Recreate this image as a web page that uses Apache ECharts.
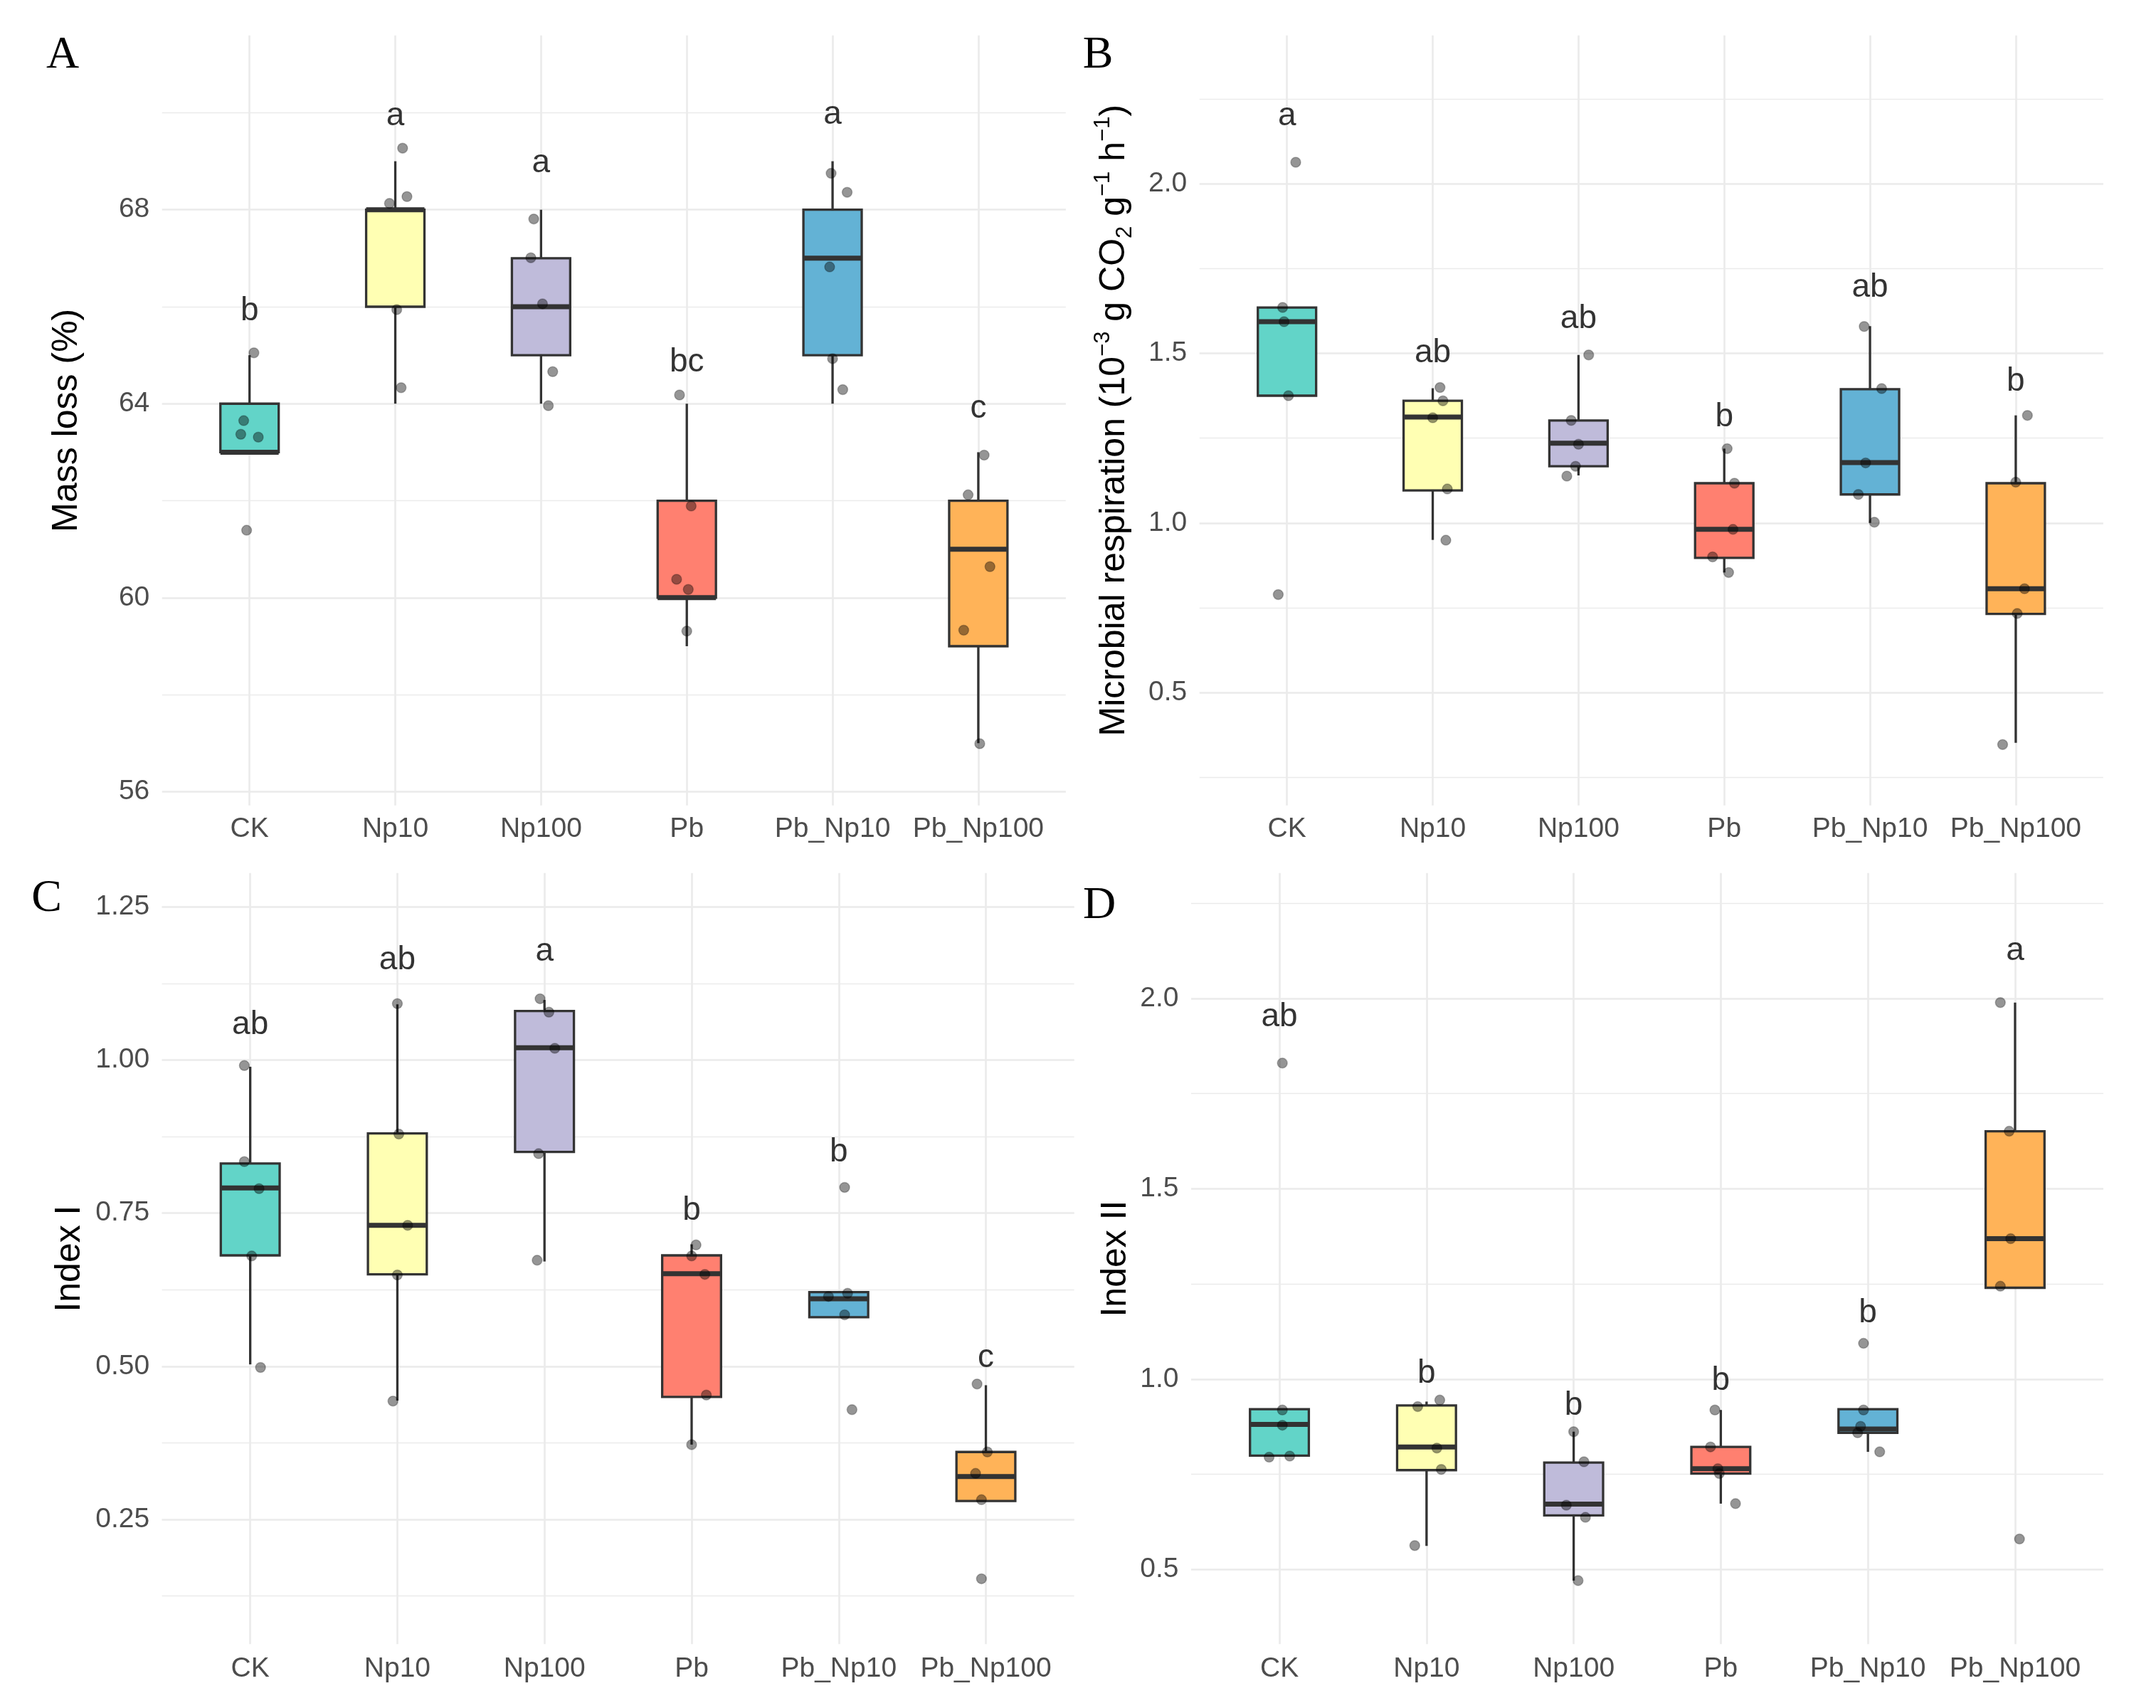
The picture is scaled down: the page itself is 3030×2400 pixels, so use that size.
<!DOCTYPE html>
<html>
<head>
<meta charset="utf-8">
<script src="https://cdn.jsdelivr.net/npm/echarts@6/dist/echarts.min.js"></script>
<style>
html, body { margin: 0; background: #fff; }
#chart { width: 3030px; height: 2400px; }
</style>
</head>
<body>
<div id="chart"></div>
<script>
var groups = ['CK', 'Np10', 'Np100', 'Pb', 'Pb_Np10', 'Pb_Np100'];
var fills = ['#62D4C8', '#FFFFB3', '#BFBBDA', '#FF8070', '#63B2D5', '#FFB358'];

// A - mass loss; box = [whisker lo, Q1, median, Q3, whisker hi]
var massBox = [[63, 63, 63, 64, 65], [64, 66, 68, 68, 69], [64, 65, 66, 67, 68],
               [59, 60, 60, 62, 64], [64, 65, 67, 68, 69], [57, 59, 61, 62, 63]];
// jittered points: [x offset, value]
var massPts = [
  [[0.03, 65.05], [-0.04, 63.65], [-0.06, 63.37], [0.06, 63.31], [-0.02, 61.39]],
  [[0.05, 69.27], [-0.04, 68.13], [0.08, 68.27], [0.01, 65.94], [0.04, 64.33]],
  [[-0.05, 67.81], [-0.07, 67.01], [0.01, 66.06], [0.08, 64.66], [0.05, 63.96]],
  [[-0.05, 64.18], [0.03, 61.89], [-0.07, 60.38], [0.01, 60.17], [0, 59.31]],
  [[-0.01, 68.75], [0.10, 68.36], [-0.02, 66.82], [0, 64.93], [0.07, 64.29]],
  [[0.04, 62.94], [-0.07, 62.12], [0.08, 60.64], [-0.10, 59.33], [0.01, 56.99]]
];
var massLetters = ['b', 'a', 'a', 'bc', 'a', 'c'];
var massLetterY = [65.67, 69.69, 68.72, 64.62, 69.72, 63.66];
var massTicks = [56, 60, 64, 68];
var massGrid = [56, 58, 60, 62, 64, 66, 68, 70];

// B - microbial respiration
var respBox = [[1.375, 1.375, 1.593, 1.635, 1.635], [0.95, 1.096, 1.312, 1.36, 1.397],
               [1.14, 1.167, 1.235, 1.302, 1.495], [0.854, 0.897, 0.981, 1.117, 1.219],
               [1.0, 1.084, 1.178, 1.394, 1.58], [0.352, 0.732, 0.806, 1.117, 1.317]];
var respPts = [
  [[0.06, 2.063], [-0.03, 1.635], [-0.02, 1.593], [0.01, 1.375], [-0.06, 0.789]],
  [[0.05, 1.399], [0.07, 1.36], [0, 1.31], [0.10, 1.10], [0.09, 0.949]],
  [[0.07, 1.495], [-0.05, 1.302], [0, 1.232], [-0.02, 1.167], [-0.08, 1.138]],
  [[0.02, 1.219], [0.07, 1.117], [0.06, 0.981], [-0.08, 0.90], [0.03, 0.854]],
  [[-0.04, 1.579], [0.08, 1.396], [-0.03, 1.177], [-0.08, 1.084], [0.03, 1.002]],
  [[0.08, 1.317], [0, 1.12], [0.06, 0.806], [0.01, 0.733], [-0.09, 0.347]]
];
var respLetters = ['a', 'ab', 'ab', 'b', 'ab', 'b'];
var respLetterY = [2.165, 1.466, 1.567, 1.278, 1.659, 1.382];
var respTicks = [0.5, 1.0, 1.5, 2.0];
var respGrid = [0.25, 0.5, 0.75, 1.0, 1.25, 1.5, 1.75, 2.0, 2.25];

// C - index I
var idx1Box = [[0.503, 0.681, 0.791, 0.831, 0.989], [0.444, 0.65, 0.73, 0.88, 1.091],
               [0.671, 0.85, 1.02, 1.08, 1.098], [0.372, 0.45, 0.651, 0.681, 0.699],
               [0.58, 0.58, 0.61, 0.621, 0.621], [0.28, 0.28, 0.32, 0.36, 0.469]];
var idx1Pts = [
  [[-0.04, 0.991], [-0.04, 0.834], [0.06, 0.79], [0.01, 0.68], [0.07, 0.498]],
  [[0, 1.092], [0.01, 0.879], [0.07, 0.73], [0, 0.649], [-0.03, 0.443]],
  [[-0.03, 1.10], [0.03, 1.078], [0.07, 1.019], [-0.04, 0.847], [-0.05, 0.673]],
  [[0.03, 0.698], [0, 0.68], [0.09, 0.65], [0.10, 0.453], [0, 0.372]],
  [[0.04, 0.792], [0.06, 0.619], [-0.07, 0.614], [0.04, 0.584], [0.09, 0.429]],
  [[-0.06, 0.471], [0.01, 0.36], [-0.07, 0.325], [-0.03, 0.282], [-0.03, 0.153]]
];
var idx1Letters = ['ab', 'ab', 'a', 'b', 'b', 'c'];
var idx1LetterY = [1.039, 1.144, 1.158, 0.735, 0.83, 0.495];
var idx1Ticks = [0.25, 0.5, 0.75, 1.0, 1.25];
var idx1Grid = [0.125, 0.25, 0.375, 0.5, 0.625, 0.75, 0.875, 1.0, 1.125, 1.25];

// D - index II
var idx2Box = [[0.799, 0.799, 0.881, 0.921, 0.921], [0.562, 0.761, 0.822, 0.931, 0.941],
               [0.471, 0.642, 0.672, 0.781, 0.862], [0.673, 0.752, 0.765, 0.822, 0.919],
               [0.809, 0.859, 0.869, 0.921, 0.921], [1.24, 1.24, 1.369, 1.651, 1.989]];
var idx2Pts = [
  [[0.02, 1.83], [0.02, 0.919], [0.02, 0.879], [-0.07, 0.795], [0.07, 0.798]],
  [[0.09, 0.945], [-0.06, 0.928], [0.07, 0.819], [0.10, 0.763], [-0.08, 0.563]],
  [[0, 0.862], [0.07, 0.783], [-0.05, 0.669], [0.08, 0.637], [0.03, 0.471]],
  [[-0.04, 0.919], [-0.07, 0.822], [-0.02, 0.765], [-0.01, 0.752], [0.10, 0.673]],
  [[-0.03, 1.094], [-0.03, 0.919], [-0.05, 0.876], [-0.07, 0.859], [0.08, 0.809]],
  [[-0.10, 1.989], [-0.04, 1.651], [-0.03, 1.369], [-0.10, 1.244], [0.03, 0.58]]
];
var idx2Letters = ['ab', 'b', 'b', 'b', 'b', 'a'];
var idx2LetterY = [1.92, 0.985, 0.901, 0.965, 1.144, 2.095];
var idx2Ticks = [0.5, 1.0, 1.5, 2.0];
var idx2Grid = [0.5, 0.75, 1.0, 1.25, 1.5, 1.75, 2.0, 2.25];

var panels = [
  { title: 'Mass loss (%)', box: massBox, pts: massPts, letters: massLetters, letterY: massLetterY, ticks: massTicks, grid: massGrid, digits: 0 },
  { title: 'Microbial respiration (10{sup|\u22123} g CO{sub|2} g{sup|\u22121} h{sup|\u22121})', box: respBox, pts: respPts, letters: respLetters, letterY: respLetterY, ticks: respTicks, grid: respGrid, digits: 1 },
  { title: 'Index I', box: idx1Box, pts: idx1Pts, letters: idx1Letters, letterY: idx1LetterY, ticks: idx1Ticks, grid: idx1Grid, digits: 2 },
  { title: 'Index II', box: idx2Box, pts: idx2Pts, letters: idx2Letters, letterY: idx2LetterY, ticks: idx2Ticks, grid: idx2Grid, digits: 1 }
];

// panel frames in page pixels; ref = [value, y, value, y] of two gridlines
var frames = [
  { left: 227.8, right: 1497.8, top: 49.7, bottom: 1131.7, ref: [68, 294.7, 56, 1112.4], titleGap: 256, labelGap: 33.3, tag: 'A', tagX: 88, tagY: 78.5 },
  { left: 1685.8, right: 2955.8, top: 49.7, bottom: 1131.7, ref: [2.0, 258.0, 0.5, 973.2], titleGap: 242.5, labelGap: 33.3, tag: 'B', tagX: 1543, tagY: 77.7 },
  { left: 227.6, right: 1509.6, top: 1226.8, bottom: 2310.3, ref: [1.25, 1274.3, 0.25, 2134.9], titleGap: 253.5, labelGap: 34.7, tag: 'C', tagX: 65.7, tagY: 1263 },
  { left: 1674, right: 2956, top: 1226.8, bottom: 2310.3, ref: [2.0, 1402.9, 0.5, 2205.4], titleGap: 229.5, labelGap: 34.7, tag: 'D', tagX: 1545, tagY: 1273.5 }
];

var W = 3030, H = 2400;
var FONT = '"Liberation Sans", Arial, sans-serif';
var GRID_COLOR = '#EBEBEB';
var EDGE = '#333333';

function renderBox(params, api) {
  var i = api.value(0);
  var lo = api.coord([i, api.value(1)]);
  var q1 = api.coord([i, api.value(2)]);
  var md = api.coord([i, api.value(3)]);
  var q3 = api.coord([i, api.value(4)]);
  var hi = api.coord([i, api.value(5)]);
  var hw = api.size([1, 0])[0] * 0.2;
  var x = q1[0];
  var line = { stroke: EDGE, lineWidth: 3.3 };
  return {
    type: 'group',
    children: [
      { type: 'line', shape: { x1: x, y1: hi[1], x2: x, y2: q3[1] }, style: line },
      { type: 'line', shape: { x1: x, y1: q1[1], x2: x, y2: lo[1] }, style: line },
      { type: 'rect', shape: { x: x - hw, y: q3[1], width: hw * 2, height: q1[1] - q3[1] },
        style: { fill: fills[i], stroke: EDGE, lineWidth: 3.3 } },
      { type: 'line', shape: { x1: x - hw, y1: md[1], x2: x + hw, y2: md[1] },
        style: { stroke: EDGE, lineWidth: 7 } }
    ]
  };
}

var option = {
  backgroundColor: '#fff',
  animation: false,
  grid: [], xAxis: [], yAxis: [], series: [], graphic: []
};

panels.forEach(function (p, k) {
  var f = frames[k];
  var ppu = (f.ref[3] - f.ref[1]) / (f.ref[0] - f.ref[2]);
  var py = function (v) { return f.ref[1] + (f.ref[0] - v) * ppu; };
  var vmax = f.ref[0] + (f.ref[1] - f.top) / ppu;
  var vmin = f.ref[2] - (f.bottom - f.ref[3]) / ppu;
  var sp = (f.right - f.left) / 6.2;
  var major = p.ticks, minor = p.grid;
  var majMax = major[major.length - 1], minMax = minor[minor.length - 1];

  var g0 = option.grid.length, x0 = option.xAxis.length, y0 = option.yAxis.length;
  var gridBase = { containLabel: false, outerBoundsMode: 'none' };
  option.grid.push(
    Object.assign({ left: f.left, right: W - f.right, top: py(majMax), bottom: H - py(major[0]) }, gridBase),
    Object.assign({ left: f.left, right: W - f.right, top: py(minMax), bottom: H - py(minor[0]) }, gridBase),
    Object.assign({ left: f.left + 0.6 * sp, right: W - f.right + 0.6 * sp, top: f.top, bottom: H - f.bottom }, gridBase)
  );

  option.xAxis.push(
    { type: 'value', gridIndex: g0, min: 0, max: 1, show: false },
    { type: 'value', gridIndex: g0 + 1, min: 0, max: 1, show: false },
    {
      type: 'category', gridIndex: g0 + 2, data: groups, boundaryGap: false,
      axisLine: { show: false }, axisTick: { show: false },
      axisLabel: { interval: 0, margin: f.labelGap, verticalAlign: 'middle', fontSize: 39, color: '#4D4D4D', fontFamily: FONT },
      splitLine: { show: true, interval: 0, lineStyle: { color: GRID_COLOR, width: 2.7 } }
    },
    { type: 'value', gridIndex: g0 + 2, min: 0, max: groups.length - 1, show: false }
  );

  option.yAxis.push(
    {
      type: 'value', gridIndex: g0, min: major[0], max: majMax, interval: major[1] - major[0],
      axisLine: { show: false }, axisTick: { show: false },
      axisLabel: {
        margin: 17.5, fontSize: 39, color: '#4D4D4D', fontFamily: FONT,
        formatter: function (v) { return v.toFixed(p.digits); }
      },
      splitLine: { show: true, lineStyle: { color: GRID_COLOR, width: 2.7 } }
    },
    {
      type: 'value', gridIndex: g0 + 1, min: minor[0], max: minMax, interval: minor[1] - minor[0],
      axisLine: { show: false }, axisTick: { show: false }, axisLabel: { show: false },
      splitLine: { show: true, lineStyle: { color: GRID_COLOR, width: 1.4 } }
    },
    {
      type: 'value', gridIndex: g0 + 2, min: vmin, max: vmax,
      axisLine: { show: false }, axisTick: { show: false }, axisLabel: { show: false }, splitLine: { show: false },
      name: p.title, nameLocation: 'middle', nameGap: f.titleGap, nameRotate: 90,
      nameTextStyle: {
        fontSize: 50, color: '#000', fontFamily: FONT, align: 'center', verticalAlign: 'middle', lineHeight: 62,
        rich: {
          sup: { fontSize: 31, lineHeight: 20, verticalAlign: 'top', color: '#000', fontFamily: FONT },
          sub: { fontSize: 31, lineHeight: 32, verticalAlign: 'bottom', color: '#000', fontFamily: FONT }
        }
      }
    }
  );

  option.series.push({
    type: 'custom', xAxisIndex: x0 + 3, yAxisIndex: y0 + 2, clip: false, z: 2, silent: true,
    renderItem: renderBox,
    encode: { x: 0, y: [1, 2, 3, 4, 5] },
    data: p.box.map(function (b, i) { return [i].concat(b); })
  });

  var pts = [];
  p.pts.forEach(function (list, i) {
    list.forEach(function (d) { pts.push([i + d[0], d[1]]); });
  });
  option.series.push({
    type: 'scatter', xAxisIndex: x0 + 3, yAxisIndex: y0 + 2, clip: false, z: 3, silent: true,
    symbolSize: 14,
    itemStyle: { color: 'rgba(0,0,0,0.52)', borderColor: 'rgba(0,0,0,0.3)', borderWidth: 1.5 },
    data: pts
  });

  option.series.push({
    type: 'scatter', xAxisIndex: x0 + 3, yAxisIndex: y0 + 2, clip: false, z: 4, silent: true,
    symbolSize: 1, itemStyle: { color: 'rgba(0,0,0,0)' },
    label: {
      show: true, position: 'inside', offset: [0, -16],
      fontSize: 46, color: '#000', fontFamily: FONT,
      formatter: function (params) { return p.letters[params.dataIndex]; }
    },
    data: p.letterY.map(function (y, i) { return [i, y]; })
  });

  option.graphic.push({
    type: 'text', silent: true,
    style: {
      text: f.tag, x: f.tagX, y: f.tagY, align: 'center', verticalAlign: 'middle',
      fontSize: 64, fontFamily: '"Liberation Serif", "Times New Roman", serif', fill: '#000'
    }
  });
});

var chart = echarts.init(document.getElementById('chart'), null, { renderer: 'canvas' });
chart.setOption(option);
</script>
</body>
</html>
